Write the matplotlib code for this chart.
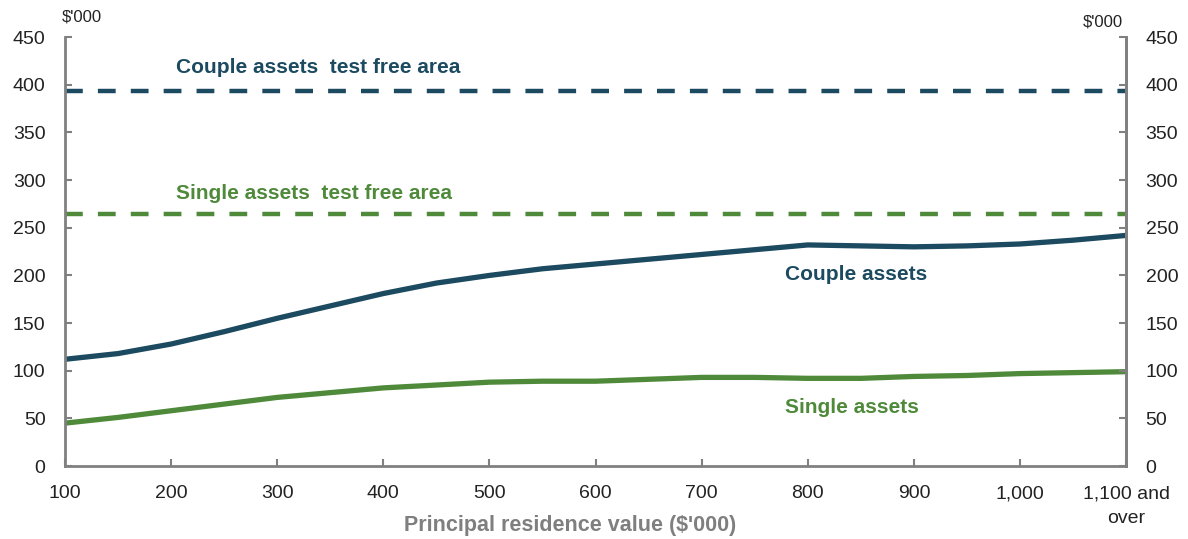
import matplotlib
matplotlib.use("Agg")
import matplotlib.pyplot as plt
import numpy as np

plt.rcParams['font.family'] = ['Liberation Sans', 'DejaVu Sans']

# Principal residence value ($'000)
house_value = [100, 150, 200, 250, 300, 350, 400, 450, 500, 550, 600, 650, 700, 750, 800, 850, 900, 950, 1000, 1050, 1100]
# median assets ($'000)
couple_assets = [112, 118, 128, 141, 155, 168, 181, 192, 200, 207, 212, 217, 222, 227, 232, 231, 230, 231, 233, 237, 242]
single_assets = [45, 51, 58, 65, 72, 77, 82, 85, 88, 89, 89, 91, 93, 93, 92, 92, 94, 95, 97, 98, 99]
couple_free_area = 394
single_free_area = 264

xticks = [100, 200, 300, 400, 500, 600, 700, 800, 900, 1000, 1100]
xtick_labels = ['100', '200', '300', '400', '500', '600', '700', '800', '900', '1,000', '1,100 and\nover']
yticks = [0, 50, 100, 150, 200, 250, 300, 350, 400, 450]

teal = '#1C4A60'
green = '#4F8A3B'
axgrey = '#808080'

fig = plt.figure(figsize=(11.88, 5.39), dpi=100)
ax = fig.add_axes([0.0547, 0.1354, 0.8933, 0.7956])

ax.plot(house_value, couple_assets, color=teal, lw=3.8, solid_capstyle='butt')
ax.plot(house_value, single_assets, color=green, lw=3.8, solid_capstyle='butt')
ax.axhline(couple_free_area, color=teal, lw=3.2, dashes=(4, 3.4))
ax.axhline(single_free_area, color=green, lw=3.2, dashes=(4, 3.4))

ax.set_xlim(100, 1100)
ax.set_ylim(0, 450)
ax.set_xticks(xticks)
ax.set_xticklabels(xtick_labels)
ax.set_yticks(yticks)
for lab in ax.get_xticklabels():
    lab.set_linespacing(1.55)

ax.spines['top'].set_visible(False)
for s in ['left', 'right', 'bottom']:
    ax.spines[s].set_color(axgrey)
    ax.spines[s].set_linewidth(2)

ax.tick_params(axis='both', direction='in', length=5, width=1.5, color=axgrey,
               labelsize=14, labelcolor='#222222')
ax.tick_params(axis='x', pad=14)
ax.tick_params(axis='y', pad=14)

ax2 = ax.twinx()
ax2.set_ylim(0, 450)
ax2.set_yticks(yticks)
ax2.spines['top'].set_visible(False)
ax2.spines['left'].set_visible(False)
ax2.spines['bottom'].set_visible(False)
ax2.spines['right'].set_color(axgrey)
ax2.spines['right'].set_linewidth(2)
ax2.tick_params(axis='y', direction='in', length=5, width=1.5, color=axgrey,
                labelsize=14, labelcolor='#222222', pad=14)

ax.text(-0.003, 1.047, "$'000", transform=ax.transAxes, ha='left', va='center', fontsize=12, color='#222222')
ax.text(0.997, 1.035, "$'000", transform=ax.transAxes, ha='right', va='center', fontsize=12, color='#222222')

ax.text(205, 418, 'Couple assets  test free area', color=teal, fontsize=15, fontweight='bold', va='center')
ax.text(205, 286, 'Single assets  test free area', color=green, fontsize=15, fontweight='bold', va='center')
ax.text(778, 201, 'Couple assets', color=teal, fontsize=15, fontweight='bold', va='center')
ax.text(778, 61, 'Single assets', color=green, fontsize=15, fontweight='bold', va='center')

ax.set_xlabel("Principal residence value ($'000)", fontsize=15.5, fontweight='bold', color='#7f7f7f')
ax.xaxis.set_label_coords(0.476, -0.115)

fig.savefig('out.png', dpi=100)
